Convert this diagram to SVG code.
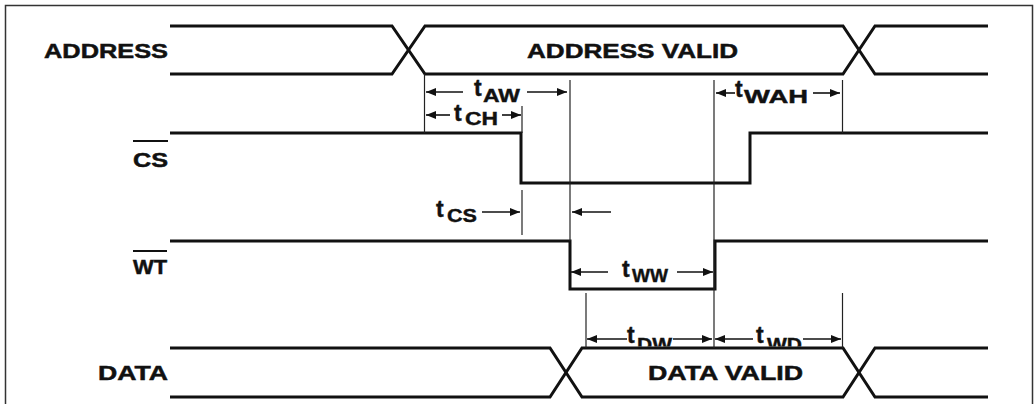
<svg xmlns="http://www.w3.org/2000/svg" width="1035" height="404" viewBox="0 0 1035 404">
<style>
.sig{fill:none;stroke:#111;stroke-width:3;stroke-linejoin:miter}
.ref{fill:none;stroke:#222;stroke-width:1.2}
.arr{fill:none;stroke:#111;stroke-width:1.6;marker-end:url(#ah)}
.lbl{font-family:"Liberation Sans",Arial,sans-serif;font-weight:bold;font-size:21px;fill:#111;stroke:#111;stroke-width:0.5}
.t{font-family:"Liberation Sans",Arial,sans-serif;font-weight:bold;font-size:23px;fill:#111;stroke:#111;stroke-width:0.4}
.sub{font-family:"Liberation Sans",Arial,sans-serif;font-weight:bold;font-size:18px;fill:#111;stroke:#111;stroke-width:0.4}
.ovl{stroke:#111;stroke-width:1.8}
.frame{fill:none;stroke:#333;stroke-width:1.5}
</style>
<defs>
<marker id="ah" viewBox="0 0 10 8" refX="10" refY="4" markerWidth="10" markerHeight="8" markerUnits="userSpaceOnUse" orient="auto">
<path d="M0,0 L10,4 L0,8 z" fill="#111"/>
</marker>
<clipPath id="clipData"><rect x="560" y="300" width="300" height="46.5"/></clipPath>
</defs>
<rect width="1035" height="404" fill="#fff"/>
<path class="frame" d="M5.5,404 V5.5 H1032.5 V404"/>

<g id="address">
<text class="lbl" x="44" y="58" textLength="124" lengthAdjust="spacingAndGlyphs">ADDRESS</text>
<path class="sig" d="M170,26 H392 L425,74 H843 L875,26 H988"/>
<path class="sig" d="M170,74 H392 L425,26 H843 L875,74 H988"/>
<text class="lbl" x="527" y="58" textLength="211" lengthAdjust="spacingAndGlyphs">ADDRESS VALID</text>
</g>

<g id="cs">
<text class="lbl" x="133" y="167" textLength="35" lengthAdjust="spacingAndGlyphs">CS</text>
<line class="ovl" x1="133" y1="141" x2="168" y2="141"/>
<path class="sig" d="M170,133 H521 V183 H750 V133 H988"/>
</g>

<g id="wt">
<text class="lbl" x="133" y="274" textLength="34" lengthAdjust="spacingAndGlyphs">WT</text>
<line class="ovl" x1="133" y1="251" x2="167" y2="251"/>
<path class="sig" d="M170,241 H570 V289 H715 V241 H988"/>
</g>

<g id="data">
<text class="lbl" x="98" y="380" textLength="70" lengthAdjust="spacingAndGlyphs">DATA</text>
<path class="sig" d="M170,348 H550 L582,397 H843 L875,348 H988"/>
<path class="sig" d="M170,397 H550 L582,348 H843 L875,397 H988"/>
<text class="lbl" x="648" y="380" textLength="155" lengthAdjust="spacingAndGlyphs">DATA VALID</text>
</g>

<g id="connectors">
<line class="ref" x1="424.5" y1="74" x2="424.5" y2="133"/>
<line class="ref" x1="522" y1="106" x2="522" y2="133"/>
<line class="ref" x1="522" y1="190" x2="522" y2="235"/>
<line class="ref" x1="570" y1="80" x2="570" y2="241"/>
<line class="ref" x1="714" y1="80" x2="714" y2="348"/>
<line class="ref" x1="842.5" y1="80" x2="842.5" y2="133"/>
<line class="ref" x1="586" y1="293" x2="586" y2="348"/>
<line class="ref" x1="842.5" y1="293" x2="842.5" y2="348"/>

<line class="arr" x1="463" y1="92" x2="426" y2="92"/>
<line class="arr" x1="527" y1="92" x2="567" y2="92"/>
<line class="arr" x1="450" y1="115" x2="426" y2="115"/>
<line class="arr" x1="502" y1="115" x2="521" y2="115"/>
<line class="arr" x1="735" y1="93" x2="716" y2="93"/>
<line class="arr" x1="813" y1="93" x2="840" y2="93"/>
<line class="arr" x1="482" y1="212" x2="520" y2="212"/>
<line class="arr" x1="611" y1="212" x2="572" y2="212"/>
<line class="arr" x1="608" y1="272" x2="571" y2="272"/>
<line class="arr" x1="677" y1="272" x2="713" y2="272"/>
<line class="arr" x1="627" y1="339" x2="587" y2="339"/>
<line class="arr" x1="673" y1="339" x2="712" y2="339"/>
<line class="arr" x1="753" y1="339" x2="715" y2="339"/>
<line class="arr" x1="803" y1="339" x2="841" y2="339"/>
</g>

<g id="timing-labels">
<text class="t" x="474" y="96">t</text><text class="sub" x="483" y="102" textLength="37" lengthAdjust="spacingAndGlyphs">AW</text>
<text class="t" x="454" y="121">t</text><text class="sub" x="465" y="125" textLength="33" lengthAdjust="spacingAndGlyphs">CH</text>
<text class="t" x="735" y="97">t</text><text class="sub" x="744" y="103" textLength="64" lengthAdjust="spacingAndGlyphs">WAH</text>
<text class="t" x="436" y="217">t</text><text class="sub" x="447" y="222" textLength="30" lengthAdjust="spacingAndGlyphs">CS</text>
<text class="t" x="622" y="277">t</text><text class="sub" x="632" y="282" textLength="36" lengthAdjust="spacingAndGlyphs">WW</text>
<g clip-path="url(#clipData)">
<text class="t" x="627" y="343">t</text><text class="sub" x="637" y="351" textLength="35" lengthAdjust="spacingAndGlyphs">DW</text>
<text class="t" x="756" y="343">t</text><text class="sub" x="767" y="351" textLength="35" lengthAdjust="spacingAndGlyphs">WD</text>
</g>
</g>
</svg>
